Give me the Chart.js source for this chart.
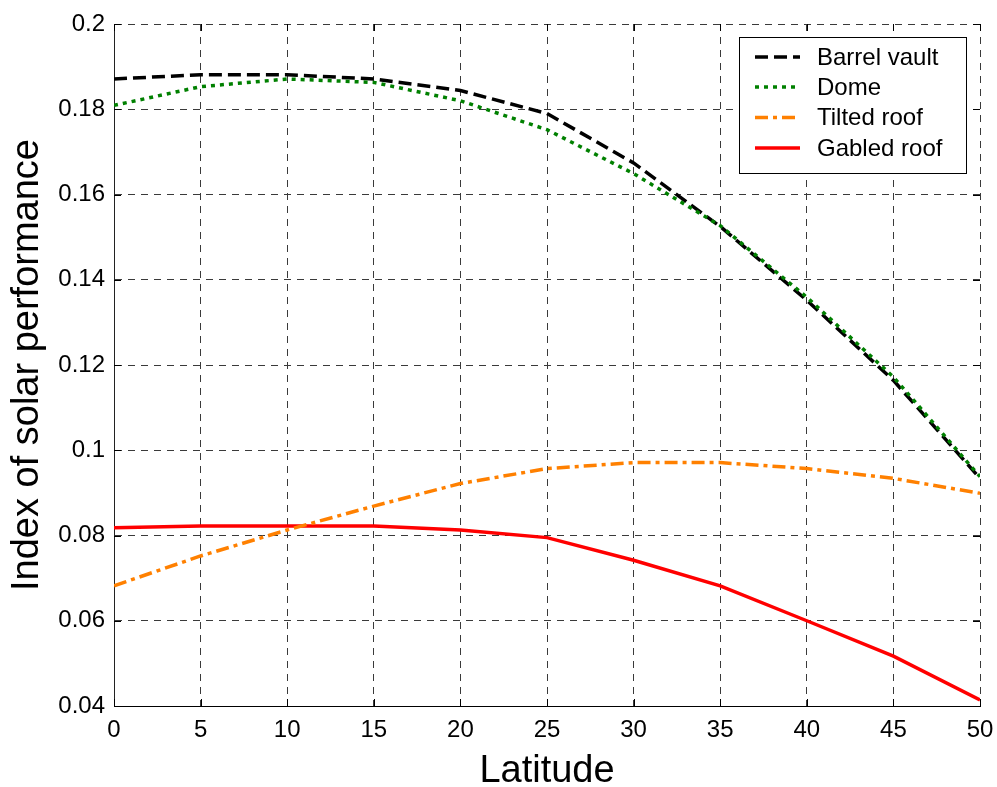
<!DOCTYPE html>
<html>
<head>
<meta charset="utf-8">
<script src="https://cdn.jsdelivr.net/npm/chart.js@4/dist/chart.umd.min.js"></script>
<style>
  html, body { margin: 0; padding: 0; background: #ffffff; }
  #wrap { width: 997px; height: 787px; position: relative; }
</style>
</head>
<body>
<div id="wrap"><canvas id="c" width="997" height="787"></canvas></div>
<script>
// ---- data ----
const latitudes = [0, 5, 10, 15, 20, 25, 30, 35, 40, 45, 50];
const barrelVault = [0.1871, 0.1881, 0.1881, 0.1871, 0.1844, 0.1790, 0.1674, 0.1525, 0.1352, 0.1164, 0.0934];
const dome        = [0.1809, 0.1853, 0.1871, 0.1863, 0.1820, 0.1752, 0.1649, 0.1527, 0.1359, 0.1172, 0.0938];
const tiltedRoof  = [0.0682, 0.0752, 0.0813, 0.0869, 0.0922, 0.0957, 0.0971, 0.0971, 0.0957, 0.0934, 0.0899];
const gabledRoof  = [0.0818, 0.0822, 0.0822, 0.0822, 0.0813, 0.0795, 0.0742, 0.0682, 0.0600, 0.0517, 0.0414];
const seriesNames = ['Barrel vault', 'Dome', 'Tilted roof', 'Gabled roof'];
const xTickLabels = ['0', '5', '10', '15', '20', '25', '30', '35', '40', '45', '50'];
const yTickLabels = ['0.04', '0.06', '0.08', '0.1', '0.12', '0.14', '0.16', '0.18', '0.2'];
const xTitle = 'Latitude';
const yTitle = 'Index of solar performance';

const FONT = "'Liberation Sans', Arial, Helvetica, sans-serif";
const toPoints = arr => latitudes.map((x, i) => ({ x: x, y: arr[i] }));

// inward tick marks on all four sides (MATLAB style box)
const innerTicks = {
  id: 'innerTicks',
  afterDatasetsDraw(chart) {
    const { ctx, chartArea: a, scales: { x, y } } = chart;
    const L = 7;
    ctx.save();
    ctx.strokeStyle = '#000';
    ctx.lineWidth = 1;
    ctx.beginPath();
    x.ticks.forEach(t => {
      const px = Math.round(x.getPixelForValue(t.value)) + 0.5;
      ctx.moveTo(px, a.bottom); ctx.lineTo(px, a.bottom - L);
      ctx.moveTo(px, a.top); ctx.lineTo(px, a.top + L);
    });
    y.ticks.forEach(t => {
      const py = Math.round(y.getPixelForValue(t.value)) + 0.5;
      ctx.moveTo(a.left, py); ctx.lineTo(a.left + L, py);
      ctx.moveTo(a.right, py); ctx.lineTo(a.right - L, py);
    });
    ctx.stroke();
    ctx.restore();
  }
};

// boxed legend inside the plot, top right
const boxLegend = {
  id: 'boxLegend',
  afterDraw(chart) {
    const { ctx } = chart;
    const bx = 739.5, by = 37.5, bw = 227, bh = 136;
    ctx.save();
    ctx.fillStyle = '#fff';
    ctx.fillRect(bx, by, bw, bh);
    ctx.strokeStyle = '#000';
    ctx.lineWidth = 1;
    ctx.setLineDash([]);
    ctx.strokeRect(bx, by, bw, bh);
    const rowsY = [57, 87, 117.5, 148];
    chart.data.datasets.forEach((ds, i) => {
      const yy = rowsY[i];
      ctx.save();
      ctx.strokeStyle = ds.borderColor;
      ctx.lineWidth = ds.borderWidth;
      ctx.setLineDash(ds.borderDash || []);
      ctx.beginPath();
      ctx.moveTo(755, yy);
      ctx.lineTo(800, yy);
      ctx.stroke();
      ctx.restore();
      ctx.fillStyle = '#000';
      ctx.font = '24px ' + FONT;
      ctx.textBaseline = 'middle';
      ctx.textAlign = 'left';
      ctx.fillText(ds.label, 817, yy + 1);
    });
    ctx.restore();
  }
};

const whiteBg = {
  id: 'whiteBg',
  beforeDraw(chart) {
    const { ctx } = chart;
    ctx.save();
    ctx.fillStyle = '#fff';
    ctx.fillRect(0, 0, chart.width, chart.height);
    ctx.restore();
  }
};

new Chart(document.getElementById('c'), {
  type: 'line',
  data: {
    datasets: [
      { label: seriesNames[0], data: toPoints(barrelVault), borderColor: '#000000', borderWidth: 3.5, borderDash: [13, 6], order: 1 },
      { label: seriesNames[1], data: toPoints(dome), borderColor: '#008000', borderWidth: 3.5, borderDash: [4, 5], order: 0 },
      { label: seriesNames[2], data: toPoints(tiltedRoof), borderColor: '#ff8000', borderWidth: 3.5, borderDash: [13, 5, 4, 5], order: 2 },
      { label: seriesNames[3], data: toPoints(gabledRoof), borderColor: '#ff0000', borderWidth: 3.5, order: 3 }
    ]
  },
  options: {
    responsive: false,
    animation: false,
    devicePixelRatio: 1,
    elements: { point: { radius: 0 }, line: { tension: 0, fill: false } },
    layout: { padding: { left: 0, top: 24, right: 17, bottom: 0 } },
    plugins: { legend: { display: false }, tooltip: { enabled: false } },
    scales: {
      x: {
        type: 'linear',
        min: 0, max: 50,
        ticks: {
          stepSize: 5,
          color: '#000',
          padding: 10,
          maxRotation: 0,
          font: { family: FONT, size: 24 },
          callback: (v, i) => xTickLabels[i] !== undefined ? xTickLabels[i] : String(v)
        },
        grid: { color: '#3a3a3a', lineWidth: 1, drawTicks: false },
        border: { display: true, color: '#000', width: 1, dash: [7, 6] },
        title: { display: true, text: xTitle, color: '#000', font: { family: FONT, size: 38, lineHeight: 0.8 }, padding: { top: 0, bottom: 0 } },
        afterFit: s => { s.height = 81; s.paddingLeft = 0; s.paddingRight = 0; }
      },
      y: {
        type: 'linear',
        min: 0.04, max: 0.2,
        ticks: {
          stepSize: 0.02,
          color: '#000',
          padding: 9,
          font: { family: FONT, size: 24 },
          callback: (v, i) => yTickLabels[i] !== undefined ? yTickLabels[i] : String(v)
        },
        grid: { color: '#3a3a3a', lineWidth: 1, drawTicks: false },
        border: { display: true, color: '#222', width: 1, dash: [7, 6] },
        title: { display: true, text: yTitle, color: '#000', font: { family: FONT, size: 38, lineHeight: 1 }, padding: { top: 9, bottom: 0 } },
        afterFit: s => { s.width = 114; s.paddingTop = 0; s.paddingBottom = 0; }
      }
    }
  },
  plugins: [whiteBg, innerTicks, boxLegend]
});
</script>
</body>
</html>
